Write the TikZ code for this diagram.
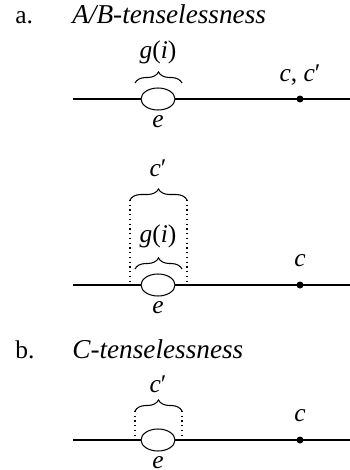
\documentclass[tikz,border=0pt]{standalone}
\usepackage{fontspec}
\setmainfont{Liberation Serif}
\usetikzlibrary{
  positioning,
  calc,
  shapes.geometric,
  decorations.pathreplacing
}
\tikzset{
  txt/.style      = {font=\fontsize{14.5}{17}\selectfont, inner sep=0pt},
  head/.style     = {font=\fontsize{15.5}{18}\selectfont\itshape,
                     inner sep=0pt, anchor=base west},
  timeline/.style = {line width=0.6pt},
  event/.style    = {ellipse, draw, fill=white, line width=0.6pt,
                     minimum width=0.68cm, minimum height=0.44cm,
                     inner sep=0pt},
  clock/.style    = {circle, fill=black, minimum size=0.14cm, inner sep=0pt},
  cbrace/.style   = {decorate, line width=0.6pt,
                     decoration={brace, amplitude=0.22cm}},
  span/.style     = {dotted, line width=0.7pt}
}
\newcommand{\cpr}{\textit{c}′}

\begin{document}
\begin{tikzpicture}[x=0.02cm, y=-0.02cm]
\useasboundingbox (0,0) rectangle (350,470);
  % headings
  \node[txt, anchor=base west] (la) at (15,24) {a.};
  \node[head] (ha) at (72,24) {A/B-tenselessness};
  \node[txt, anchor=base west] (lb) at (15,358) {b.};
  \node[head] (hb) at (72,358) {C-tenselessness};
  % three time lines: event e and the clock point
  \foreach \n/\y/\lab in {
      1/99/{\textit{c}, \cpr},
      2/285/{\textit{c}},
      3/440/{\textit{c}}}{
    \coordinate (s\n) at (73,\y);
    \coordinate (t\n) at (350,\y);
    \draw[timeline] (s\n) -- (t\n);
    \node[event] (ev\n) at (158,\y) {};
    \node[txt] (el\n) at (158,\y+23) {\textit{e}};
    \node[clock] (pt\n) at (300,\y) {};
    \node[txt] (cl\n) at (300,\y-24) {\lab};
  }
  % a., first line: g(i) over e
  \coordinate (ga1) at (135,83);
  \coordinate (gb1) at (182,83);
  \draw[cbrace] (ga1) -- (gb1);
  \node[txt] (g1) at (158,52) {\textit{g}(\textit{i})};
  % a., second line: c' over g(i) over e
  \coordinate (ca2) at (130,200);
  \coordinate (cb2) at (187,200);
  \coordinate (cc2) at (130,285);
  \coordinate (cd2) at (187,285);
  \draw[cbrace] (ca2) -- (cb2);
  \draw[span] (ca2) -- (cc2);
  \draw[span] (cb2) -- (cd2);
  \node[txt] (c2) at (158,168) {\cpr};
  \coordinate (ga2) at (135,269);
  \coordinate (gb2) at (182,269);
  \draw[cbrace] (ga2) -- (gb2);
  \node[txt] (g2) at (158,236) {\textit{g}(\textit{i})};
  % b.: c' over e
  \coordinate (ca3) at (135,411);
  \coordinate (cb3) at (182,411);
  \coordinate (cc3) at (135,440);
  \coordinate (cd3) at (182,440);
  \draw[cbrace] (ca3) -- (cb3);
  \draw[span] (ca3) -- (cc3);
  \draw[span] (cb3) -- (cd3);
  \node[txt] (c3) at (158,384) {\cpr};
\end{tikzpicture}
\end{document}
